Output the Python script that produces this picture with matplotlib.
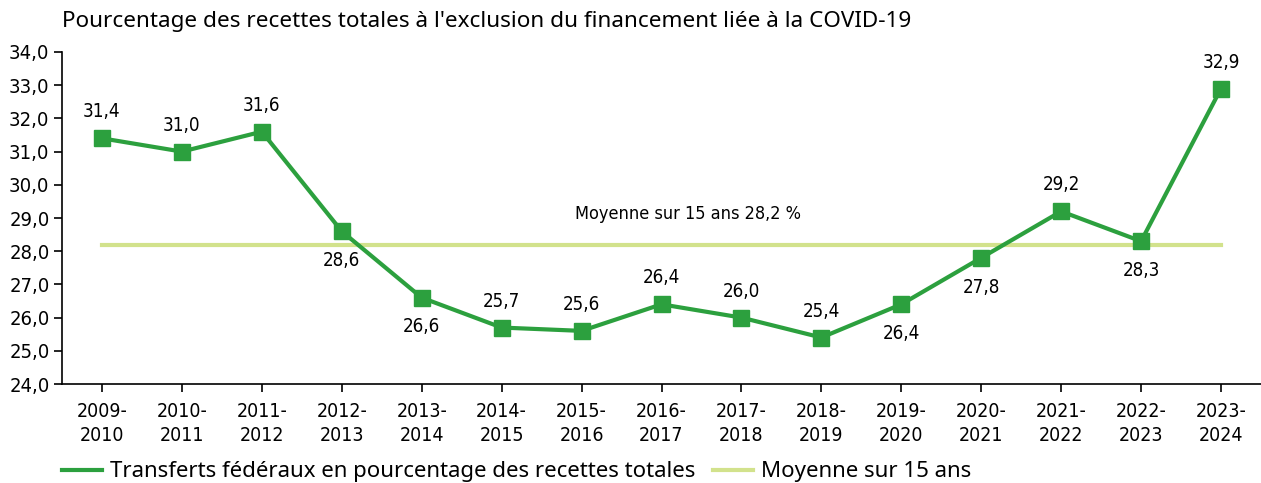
import matplotlib
matplotlib.use("Agg")
import matplotlib.pyplot as plt

years = ["2009-\n2010", "2010-\n2011", "2011-\n2012", "2012-\n2013", "2013-\n2014",
         "2014-\n2015", "2015-\n2016", "2016-\n2017", "2017-\n2018", "2018-\n2019",
         "2019-\n2020", "2020-\n2021", "2021-\n2022", "2022-\n2023", "2023-\n2024"]
transfers = [31.4, 31.0, 31.6, 28.6, 26.6, 25.7, 25.6, 26.4, 26.0, 25.4, 26.4, 27.8, 29.2, 28.3, 32.9]
label_above = [True, True, True, False, False, True, True, True, True, True, False, False, True, False, True]
average = 28.2

green = "#2ca03e"
avg_col = "#d2e28c"
cond = dict(family="DejaVu Sans", stretch="condensed")

fig = plt.figure(figsize=(12.61, 4.83), dpi=100)
ax = fig.add_axes([62 / 1261, 1 - 384 / 483, 1 - 62 / 1261, (384 - 52) / 483])

x = list(range(len(years)))
ax.plot([x[0], x[-1]], [average, average], color=avg_col, lw=3, label="Moyenne sur 15 ans", zorder=2)
ax.plot(x, transfers, color=green, lw=3, marker="s", markersize=11,
        label="Transferts fédéraux en pourcentage des recettes totales", zorder=3)

# value labels above / below the markers
for xi, v, up in zip(x, transfers, label_above):
    ax.annotate(f"{v:.1f}".replace(".", ","), (xi, v), xytext=(0, 19 if up else -21),
                textcoords="offset points", ha="center", va="center", fontsize=13.5, **cond)

ax.text(7.33, 29.12, f"Moyenne sur 15 ans {average:.1f} %".replace(".", ","),
        ha="center", va="center", fontsize=13, **cond)

ax.set_xlim(-0.5, 14.5)
ax.set_ylim(24, 34)
ax.set_yticks([24 + i for i in range(11)])
ax.set_yticklabels([f"{24 + i:.1f}".replace(".", ",") for i in range(11)], fontsize=14.5, **cond)
ax.set_xticks(x)
ax.set_xticklabels(years, fontsize=14, linespacing=1.3, **cond)
ax.tick_params(length=6, width=1.2)
ax.tick_params(axis="x", pad=7)
ax.tick_params(axis="y", pad=3)
for s in ["top", "right"]:
    ax.spines[s].set_visible(False)
for s in ["left", "bottom"]:
    ax.spines[s].set_linewidth(1.2)

fig.text(62 / 1261, 1 - 22 / 483, "Pourcentage des recettes totales à l'exclusion du financement liée à la COVID-19",
         fontsize=16.2, family="Noto Sans", va="center")

handles, labels = ax.get_legend_handles_labels()
h_transfers = plt.Line2D([], [], color=green, lw=3)
h_avg = plt.Line2D([], [], color=avg_col, lw=3)
fig.legend([h_transfers, h_avg], labels[::-1], loc="center left", bbox_to_anchor=(62 / 1261, 1 - 472 / 483),
           ncol=2, frameon=False, prop={"family": "Noto Sans", "size": 16}, borderpad=0, borderaxespad=0,
           handlelength=1.8, handletextpad=0.36, columnspacing=0.8)

fig.savefig("out.png", dpi=100)
